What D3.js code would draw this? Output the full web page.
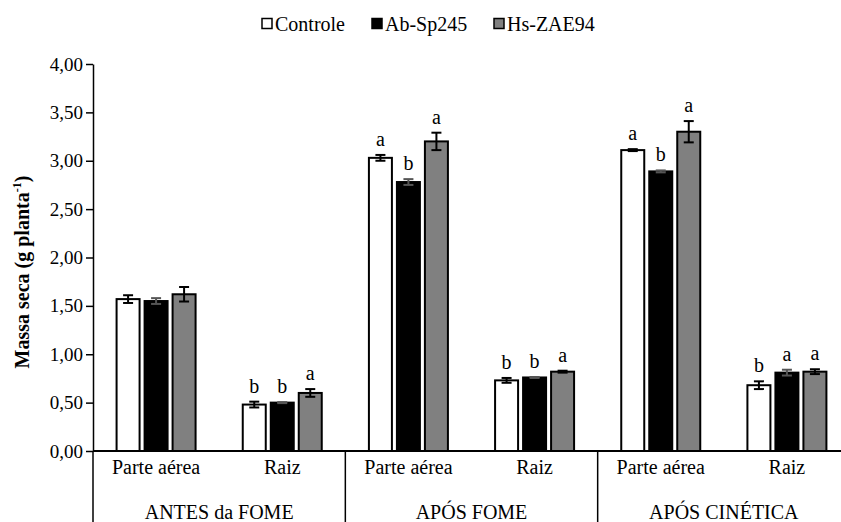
<!DOCTYPE html>
<html><head><meta charset="utf-8">
<script src="https://cdn.jsdelivr.net/npm/d3@7"></script>
<style>
body{margin:0;background:#fff;}
svg, svg text{font-family:"Liberation Serif","Times New Roman","DejaVu Serif",serif;}
</style></head>
<body><svg id="chart" width="841" height="522"></svg>
<script>
const stages = ["ANTES da FOME", "APÓS FOME", "APÓS CINÉTICA"];
const parts = ["Parte aérea", "Raiz"];
const seriesNames = ["Controle", "Ab-Sp245", "Hs-ZAE94"];
const seriesColors = ["#ffffff", "#000000", "#808080"];
const errColors = ["#000000", "#555555", "#000000"];
// values per [stage][part] for each series
const controle = [[1.57, 0.48], [3.03, 0.73], [3.11, 0.68]];
const abSp245  = [[1.55, 0.50], [2.78, 0.76], [2.89, 0.81]];
const hsZAE94  = [[1.62, 0.60], [3.20, 0.82], [3.30, 0.82]];
const errControle = [[0.04, 0.03], [0.03, 0.025], [0.01, 0.04]];
const errAbSp245  = [[0.03, 0.005], [0.03, 0.005], [0.01, 0.03]];
const errHsZAE94  = [[0.075, 0.04], [0.09, 0.01], [0.11, 0.025]];
const lettersControle = [["", "b"], ["a", "b"], ["a", "b"]];
const lettersAbSp245  = [["", "b"], ["b", "b"], ["b", "a"]];
const lettersHsZAE94  = [["", "a"], ["a", "a"], ["a", "a"]];
const yTicks = [0, 0.5, 1, 1.5, 2, 2.5, 3, 3.5, 4];

const values = [controle, abSp245, hsZAE94];
const errs = [errControle, errAbSp245, errHsZAE94];
const letters = [lettersControle, lettersAbSp245, lettersHsZAE94];

const FONT = "Liberation Serif, Times New Roman, DejaVu Serif, serif";
const svg = d3.select("#chart").attr("font-family", FONT);
const x0 = 93, x1 = 850, yTop = 64, yBot = 451;

const y = d3.scaleLinear().domain([0, 4]).range([yBot, yTop]);
const xStage = d3.scaleBand().domain(stages).range([x0, x1]).padding(0);
const xPart = d3.scaleBand().domain(parts).range([0, xStage.bandwidth()]).padding(0);
const barW = 23, gap = 5;
const groupW = 3 * barW + 2 * gap;
const xSeries = d3.scaleBand().domain(seriesNames).range([0, groupW])
  .paddingInner(gap / (barW + gap)).paddingOuter(0);

const fmt = v => d3.format(".2f")(v).replace(".", ",");

// y axis
const yAxis = d3.axisLeft(y).tickValues(yTicks).tickFormat(fmt).tickSize(7).tickSizeOuter(0);
const gy = svg.append("g").attr("transform", `translate(${x0},0)`).call(yAxis);
gy.attr("font-family", FONT);
gy.select(".domain").attr("stroke", "#000").attr("stroke-width", 1.5);
gy.selectAll(".tick line").attr("stroke", "#000").attr("stroke-width", 1.5);
gy.selectAll(".tick text").attr("font-size", 19).attr("font-family", FONT).attr("fill", "#000").attr("x", -10);

// y title
svg.append("text")
  .attr("transform", `translate(29,${272}) rotate(-90)`)
  .attr("text-anchor", "middle").attr("font-family", FONT)
  .attr("font-size", 20).attr("font-weight", "bold").attr("fill", "#000")
  .call(t => {
    t.append("tspan").text("Massa seca (g planta");
    t.append("tspan").attr("font-size", 12).attr("dy", -8).text("-1");
    t.append("tspan").attr("dy", 8).text(")");
  });

// x axis baseline and separators
svg.append("line").attr("x1", x0).attr("x2", 841).attr("y1", yBot).attr("y2", yBot)
  .attr("stroke", "#000").attr("stroke-width", 2);
stages.forEach((s, i) => {
  const xs = xStage(s);
  svg.append("line").attr("x1", xs).attr("x2", xs).attr("y1", yBot).attr("y2", 522)
    .attr("stroke", "#000").attr("stroke-width", 1.5);
  svg.append("text").attr("x", xs + xStage.bandwidth() / 2).attr("y", 519)
    .attr("text-anchor", "middle").attr("font-size", 20).attr("font-family", FONT).attr("fill", "#000").text(s);
  parts.forEach(p => {
    svg.append("text").attr("x", xs + xPart(p) + xPart.bandwidth() / 2).attr("y", 474)
      .attr("text-anchor", "middle").attr("font-size", 20).attr("font-family", FONT).attr("fill", "#000").text(p);
  });
});

// bars
const barsG = svg.append("g");
stages.forEach((s, i) => {
  parts.forEach((p, j) => {
    const cx = xStage(s) + xPart(p) + xPart.bandwidth() / 2 - groupW / 2;
    seriesNames.forEach((n, k) => {
      const v = values[k][i][j], e = errs[k][i][j];
      const bx = cx + xSeries(n);
      barsG.append("rect").attr("x", bx).attr("y", y(v))
        .attr("width", xSeries.bandwidth()).attr("height", yBot - y(v))
        .attr("fill", seriesColors[k]).attr("stroke", "#000").attr("stroke-width", 2);
      const mx = bx + xSeries.bandwidth() / 2;
      const eg = barsG.append("g").attr("stroke", errColors[k]).attr("stroke-width", 2);
      eg.append("line").attr("x1", mx).attr("x2", mx).attr("y1", y(v + e)).attr("y2", y(v - e));
      eg.append("line").attr("x1", mx - 5).attr("x2", mx + 5).attr("y1", y(v + e)).attr("y2", y(v + e));
      eg.append("line").attr("x1", mx - 5).attr("x2", mx + 5).attr("y1", y(v - e)).attr("y2", y(v - e));
      const L = letters[k][i][j];
      if (L) {
        barsG.append("text").attr("x", mx).attr("y", y(v + e) - 9)
          .attr("text-anchor", "middle").attr("font-size", 20).attr("font-family", FONT).attr("fill", "#000").text(L);
      }
    });
  });
});

// legend
const legPos = [262, 372, 494];
seriesNames.forEach((n, k) => {
  svg.append("rect").attr("x", legPos[k]).attr("y", 18.5).attr("width", 10).attr("height", 10)
    .attr("fill", seriesColors[k]).attr("stroke", "#000").attr("stroke-width", 1.5);
  svg.append("text").attr("x", legPos[k] + 13).attr("y", 31)
    .attr("font-size", 20).attr("font-family", FONT).attr("fill", "#000").text(n);
});
</script></body></html>
